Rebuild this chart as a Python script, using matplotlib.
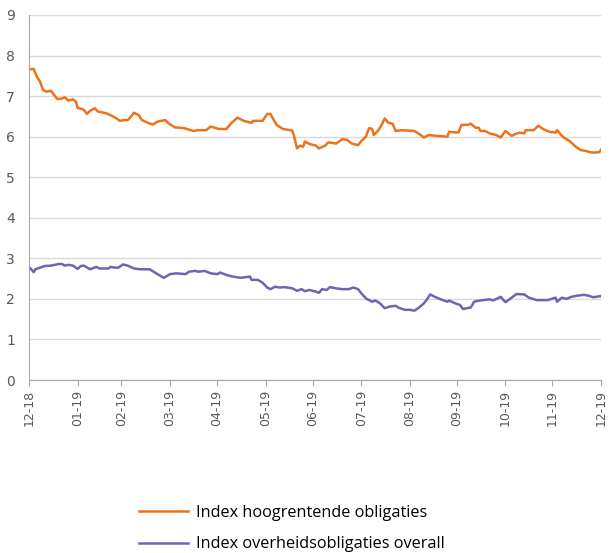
import datetime as dt
import matplotlib
matplotlib.use("Agg")
import matplotlib.pyplot as plt
import matplotlib.dates as mdates

# days since 31-12-2018
hy_days = [0, 3, 5, 7, 9, 11, 14, 16, 18, 20, 23, 25, 28, 30, 31, 34, 35, 37, 39, 42,
           44, 49, 52, 55, 58, 61, 63, 65, 67, 70, 72, 76, 79, 82, 87, 89, 93, 99, 105, 108,
           113, 116, 121, 126, 129, 133, 137, 142, 143, 149, 152, 154, 158, 162, 168, 169, 171, 173, 175, 176,
           179, 183, 185, 189, 191, 196, 200, 203, 206, 210, 212, 215, 217, 219, 220, 223, 225, 227, 229, 232,
           234, 238, 246, 250, 252, 255, 260, 267, 268, 274, 276, 280, 282, 285, 287, 288, 291, 294, 298, 301,
           304, 308, 310, 313, 316, 317, 322, 325, 328, 332, 336, 337, 340, 342, 345, 349, 352, 355, 359, 362,
           364, 365]
hy_vals = [7.66, 7.67, 7.48, 7.36, 7.15, 7.11, 7.13, 7.03, 6.93, 6.93, 6.97, 6.89, 6.92, 6.86, 6.71, 6.68, 6.66, 6.56, 6.64, 6.70,
           6.62, 6.58, 6.53, 6.47, 6.39, 6.41, 6.41, 6.49, 6.59, 6.53, 6.41, 6.34, 6.30, 6.37, 6.41, 6.33, 6.23, 6.21, 6.14, 6.16,
           6.16, 6.25, 6.19, 6.19, 6.33, 6.47, 6.39, 6.34, 6.39, 6.39, 6.56, 6.56, 6.29, 6.19, 6.15, 6.04, 5.71, 5.78, 5.75, 5.88,
           5.82, 5.78, 5.71, 5.78, 5.86, 5.83, 5.94, 5.92, 5.83, 5.79, 5.89, 6.00, 6.21, 6.19, 6.04, 6.16, 6.29, 6.45, 6.35, 6.32,
           6.14, 6.16, 6.14, 6.04, 5.98, 6.04, 6.02, 6.00, 6.12, 6.10, 6.29, 6.29, 6.32, 6.22, 6.22, 6.14, 6.14, 6.08, 6.04, 5.98,
           6.14, 6.02, 6.06, 6.10, 6.08, 6.16, 6.16, 6.27, 6.19, 6.12, 6.10, 6.16, 6.02, 5.96, 5.89, 5.75, 5.67, 5.65, 5.61, 5.61,
           5.62, 5.68]

gov_days = [0, 1, 3, 4, 7, 10, 14, 19, 21, 23, 25, 28, 31, 33, 35, 39, 43, 45, 51, 52,
            55, 57, 60, 63, 67, 71, 77, 82, 86, 90, 94, 100, 102, 106, 108, 112, 116, 120, 122, 126,
            130, 135, 141, 142, 146, 149, 152, 154, 157, 160, 163, 168, 171, 174, 176, 179, 183, 185, 187, 190,
            192, 196, 200, 204, 207, 210, 212, 215, 219, 221, 224, 227, 230, 234, 236, 240, 243, 246, 249, 252,
            254, 256, 259, 262, 267, 268, 272, 275, 277, 282, 284, 286, 290, 294, 296, 301, 304, 307, 311, 316,
            319, 324, 331, 336, 337, 340, 343, 346, 350, 354, 357, 360, 365]
gov_vals = [2.78, 2.75, 2.66, 2.73, 2.77, 2.81, 2.82, 2.86, 2.86, 2.82, 2.84, 2.82, 2.74, 2.81, 2.82, 2.73, 2.79, 2.75, 2.75, 2.79,
            2.77, 2.77, 2.85, 2.82, 2.75, 2.73, 2.73, 2.61, 2.52, 2.61, 2.63, 2.61, 2.67, 2.69, 2.67, 2.69, 2.63, 2.61, 2.65, 2.59,
            2.55, 2.52, 2.55, 2.47, 2.47, 2.40, 2.28, 2.24, 2.30, 2.28, 2.29, 2.26, 2.20, 2.24, 2.19, 2.22, 2.18, 2.15, 2.24, 2.22,
            2.29, 2.26, 2.24, 2.24, 2.28, 2.24, 2.14, 2.01, 1.93, 1.96, 1.89, 1.77, 1.81, 1.83, 1.78, 1.73, 1.73, 1.71, 1.79, 1.89,
            1.99, 2.11, 2.05, 2.00, 1.93, 1.96, 1.89, 1.85, 1.75, 1.79, 1.93, 1.95, 1.97, 1.99, 1.96, 2.05, 1.92, 2.00, 2.12, 2.11,
            2.03, 1.97, 1.97, 2.03, 1.93, 2.03, 2.00, 2.05, 2.08, 2.10, 2.08, 2.04, 2.07]

series_names = ["Index hoogrentende obligaties", "Index overheidsobligaties overall"]
tick_dates = ["2018-12-31", "2019-01-31", "2019-02-28", "2019-03-31", "2019-04-30", "2019-05-31", "2019-06-30",
              "2019-07-31", "2019-08-31", "2019-09-30", "2019-10-31", "2019-11-30", "2019-12-31"]

base = dt.date(2018, 12, 31)
hy_x = [base + dt.timedelta(days=d) for d in hy_days]
gov_x = [base + dt.timedelta(days=d) for d in gov_days]
ticks = [dt.date.fromisoformat(s) for s in tick_dates]

fig = plt.figure(figsize=(6.10, 5.53), dpi=100)
ax = fig.add_axes([29 / 610, 1 - 380 / 553, 572 / 610, 365 / 553])

ax.plot(hy_x, hy_vals, color="#EE7219", lw=1.8, label=series_names[0])
ax.plot(gov_x, gov_vals, color="#6A66B0", lw=1.8, label=series_names[1])

ax.set_ylim(0, 9)
ax.set_yticks(range(0, 10))
ax.set_xlim(ticks[0], ticks[-1])
ax.set_xticks(ticks)
ax.xaxis.set_major_formatter(mdates.DateFormatter("%m-%y"))

ax.grid(axis="y", color="#D9D9D9", lw=1)
ax.set_axisbelow(True)
for s in ["top", "right"]:
    ax.spines[s].set_visible(False)
ax.spines["left"].set_color("#A6A6A6")
ax.spines["bottom"].set_color("#A6A6A6")

ax.tick_params(axis="y", length=0, pad=10, labelsize=10, labelcolor="#595959")
ax.tick_params(axis="x", length=4, color="#A6A6A6", labelsize=9, labelcolor="#595959",
               rotation=90, pad=3)

fig.legend(loc="upper left", bbox_to_anchor=(129 / 610, 1 - 495 / 553), frameon=False,
           prop={"family": "Open Sans", "size": 11.7}, handlelength=3.0, labelspacing=0.95,
           handletextpad=0.55, borderaxespad=0.2)

fig.savefig("out.png", dpi=100)
